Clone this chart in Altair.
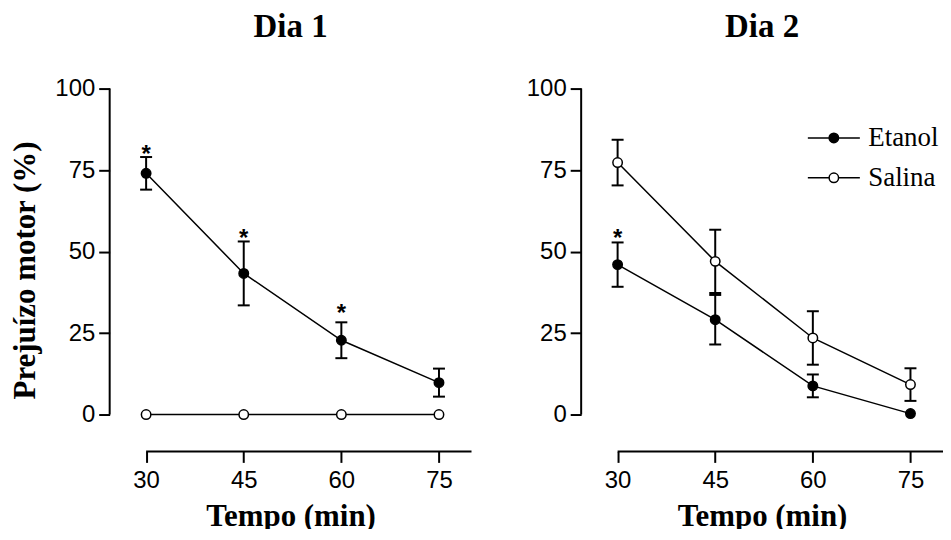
import altair as alt
import pandas as pd

# ---------------- data ----------------
minutes = [30, 45, 60, 75]
groups = ["Etanol", "Salina"]

dia1_etanol = [74.0, 43.3, 22.8, 9.8]
dia1_etanol_sem = [5.0, 9.8, 5.5, 4.3]
dia1_salina = [0.0, 0.0, 0.0, 0.0]
dia1_salina_sem = [0.0, 0.0, 0.0, 0.0]

dia2_etanol = [46.0, 29.1, 8.8, 0.3]
dia2_etanol_sem = [6.8, 7.6, 3.5, 0.0]
dia2_salina = [77.3, 47.0, 23.5, 9.2]
dia2_salina_sem = [7.0, 9.7, 8.2, 5.0]

# significance asterisks (position in y units)
dia1_star_min = [30, 45, 60]
dia1_star_y = [81.3, 55.7, 32.6]
dia2_star_min = [30]
dia2_star_y = [55.7]

panel_titles = ["Dia 1", "Dia 2"]
y_ticks = [0, 25, 50, 75, 100]
x_ticks = [30, 45, 60, 75]
y_axis_span = [0, 100]
x_axis_span = [30, 80]
x_title = "Tempo (min)"
y_title = "Prejuízo motor (%)"

X_DOMAIN = [24.4, 80]
Y_DOMAIN = [-11.3, 100]

W, H = 363, 364
SERIF = "Liberation Serif"
SANS = "Liberation Sans"

LEGEND_PATH = "M-5.5,0H-1M1,0H5.5M-1,0A1,1,0,1,0,1,0A1,1,0,1,0,-1,0Z"


def panel_df(et, et_sem, sa, sa_sem):
    rows = []
    for g, vals, sems in (("Etanol", et, et_sem), ("Salina", sa, sa_sem)):
        for m, v, s in zip(minutes, vals, sems):
            rows.append({"min": m, "val": v, "sem": s, "lo": v - s, "hi": v + s, "group": g})
    return pd.DataFrame(rows)


def make_panel(df, star_min, star_y, title, show_ytitle, show_legend):
    xs = alt.Scale(domain=X_DOMAIN, nice=False, zero=False)
    ys = alt.Scale(domain=Y_DOMAIN, nice=False, zero=False)
    xaxis = alt.Axis(values=x_ticks, title=x_title, domain=False, grid=False,
                     tickSize=11, tickWidth=2, tickColor="black",
                     labelFont=SANS, labelFontSize=24, labelColor="black", labelPadding=6,
                     titleFont=SERIF, titleFontSize=31, titleFontWeight="bold",
                     titleColor="black", titlePadding=9)
    yaxis = alt.Axis(values=y_ticks, title=(y_title if show_ytitle else None), domain=False,
                     grid=False, tickSize=11, tickWidth=2, tickColor="black",
                     labelFont=SANS, labelFontSize=24, labelColor="black", labelPadding=4,
                     titleFont=SERIF, titleFontSize=31, titleFontWeight="bold",
                     titleColor="black", titlePadding=13)

    def X(f):
        return alt.X(f"{f}:Q", scale=xs, axis=xaxis)

    def Y(f):
        return alt.Y(f"{f}:Q", scale=ys, axis=yaxis)

    base = alt.Chart(df)
    err = base.transform_filter("datum.sem > 0")

    ydom = alt.Chart(pd.DataFrame({"ya": [y_axis_span[0]], "yb": [y_axis_span[1]]})).mark_rule(
        color="black", strokeWidth=2).encode(x=alt.value(0), y=Y("ya"), y2="yb:Q")
    xdom = alt.Chart(pd.DataFrame({"xa": [x_axis_span[0]], "xb": [x_axis_span[1]],
                                   "yy": [Y_DOMAIN[0]]})).mark_rule(
        color="black", strokeWidth=2).encode(x=X("xa"), x2="xb:Q", y=Y("yy"))

    bars = err.mark_rule(color="black", strokeWidth=2).encode(x=X("min"), y=Y("lo"), y2="hi:Q")
    cap_hi = err.mark_tick(orient="horizontal", size=12, thickness=2, color="black", opacity=1).encode(
        x=X("min"), y=Y("hi"))
    cap_lo = err.mark_tick(orient="horizontal", size=12, thickness=2, color="black", opacity=1).encode(
        x=X("min"), y=Y("lo"))
    lines = base.mark_line(color="black", strokeWidth=1.5).encode(
        x=X("min"), y=Y("val"), detail="group:N")

    legend = None
    if show_legend:
        legend = alt.Legend(orient="none", legendX=240, legendY=36, title=None,
                            symbolType=LEGEND_PATH, symbolSize=90,
                            symbolStrokeColor="black", symbolStrokeWidth=1.5,
                            labelFont=SERIF, labelFontSize=27, labelColor="black",
                            labelOffset=21, rowPadding=12, padding=0)
    points = base.mark_point(shape="circle", filled=True, stroke="black", strokeWidth=1.5,
                             size=90, opacity=1).encode(
        x=X("min"), y=Y("val"),
        fill=alt.Fill("group:N", scale=alt.Scale(domain=groups, range=["black", "white"]),
                      legend=legend))

    stars = alt.Chart(pd.DataFrame({"min": star_min, "sy": star_y})).mark_text(
        text="*", font=SANS, fontSize=24, fontWeight="bold", color="black",
        baseline="middle", dy=6).encode(x=X("min"), y=Y("sy"))

    return alt.layer(ydom, xdom, bars, cap_hi, cap_lo, lines, points, stars).properties(
        width=W, height=H,
        title=alt.TitleParams(title, font=SERIF, fontSize=33, fontWeight="bold",
                              color="black", anchor="middle", frame="group", offset=33))


p1 = make_panel(panel_df(dia1_etanol, dia1_etanol_sem, dia1_salina, dia1_salina_sem),
                dia1_star_min, dia1_star_y, panel_titles[0], True, False)
p2 = make_panel(panel_df(dia2_etanol, dia2_etanol_sem, dia2_salina, dia2_salina_sem),
                dia2_star_min, dia2_star_y, panel_titles[1], False, True)

chart = alt.hconcat(p1, p2, spacing=53).resolve_legend(fill="independent").properties(
    padding={"left": 1, "top": 2, "right": -1, "bottom": -3},
    background="white",
).configure_view(stroke=None)

chart.save("out.html", embed_options={"renderer": "svg", "actions": False})
